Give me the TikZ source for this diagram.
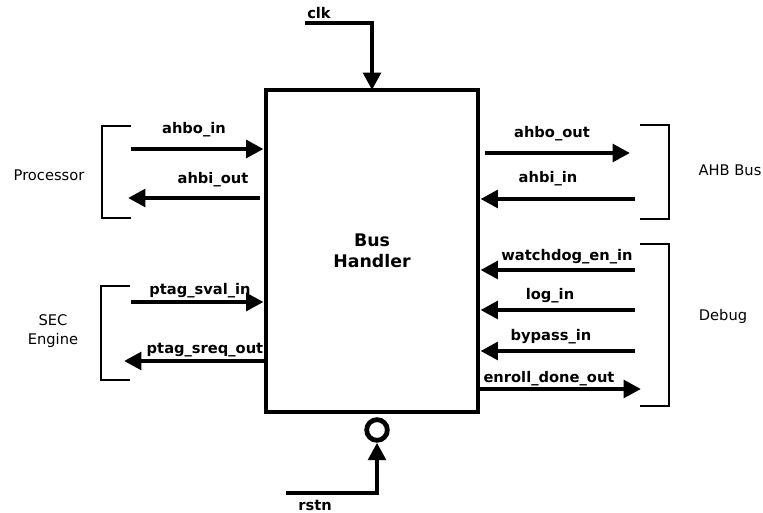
\documentclass[tikz,border=0pt]{standalone}
\usepackage{fontspec}
\setmainfont{DejaVu Sans}
\usetikzlibrary{arrows.meta}
\tikzset{
	sig/.style={line width=3.6pt,-{Triangle[length=13pt,width=13pt]}},
	brk/.style={line width=1.3pt},
	lbl/.style={font=\fontsize{11}{13}\selectfont\bfseries,inner sep=0pt},
	grp/.style={font=\fontsize{11}{14}\selectfont,inner sep=0pt,align=center}
}
\begin{document}
\begin{tikzpicture}[x=0.75pt,y=-0.75pt]
	\useasboundingbox (0,0) rectangle (763,513);
	% block
	\node[draw,line width=3.7pt,minimum width=159pt,minimum height=241.5pt,inner sep=0pt,align=center,
		font=\fontsize{13}{15.75}\selectfont\bfseries] (bh) at (372,251) {Bus\\Handler};
	% clock and reset
	\coordinate (clk) at (305,23);
	\draw[sig] (clk) -- (372,23) -- (372,90);
	\node[lbl] (clkl) at (319,13) {clk};
	\node[draw,circle,line width=3.6pt,minimum size=15.5pt,inner sep=0pt] (rc) at (377,430) {};
	\coordinate (rst) at (286,493);
	\draw[sig] (rst) -- (rst -| rc) -- (rc.south);
	\node[lbl] (rstl) at (315,505) {rstn};
	% processor
	\draw[brk] (131,126) -- (102,126) -- (102,218) -- (131,218);
	\node[grp] (proc) at (49,175) {Processor};
	\coordinate (ahboin) at (131,149);
	\coordinate (ahbiout) at (128,198);
	\draw[sig] (ahboin) -- (ahboin -| bh.west);
	\draw[sig] (ahbiout -| bh.west) ++(-4,0) -- (ahbiout);
	\node[lbl] (l1) at (194,130) {ahbo\_in};
	\node[lbl] (l2) at (213,180) {ahbi\_out};
	% sec engine
	\draw[brk] (130,286) -- (101,286) -- (101,380) -- (130,380);
	\node[grp] (sec) at (53,331) {SEC\\Engine};
	\coordinate (svalin) at (131,302);
	\coordinate (sreqout) at (124,361);
	\draw[sig] (svalin) -- (svalin -| bh.west);
	\draw[sig] (sreqout -| bh.west) -- (sreqout);
	\node[lbl] (l3) at (200,291) {ptag\_sval\_in};
	\node[lbl] (l4) at (205,350) {ptag\_sreq\_out};
	% ahb bus
	\draw[brk] (640,125) -- (669,125) -- (669,219) -- (640,219);
	\node[grp] (ahb) at (730,170) {AHB Bus};
	\coordinate (ahboout) at (630,153);
	\coordinate (ahbiin) at (635,199);
	\draw[sig] (ahboout -| bh.east) ++(5,0) -- (ahboout);
	\draw[sig] (ahbiin) -- (ahbiin -| bh.east);
	\node[lbl] (l5) at (552,134) {ahbo\_out};
	\node[lbl] (l6) at (548,179) {ahbi\_in};
	% debug
	\draw[brk] (640,244) -- (669,244) -- (669,406) -- (640,406);
	\node[grp] (dbg) at (723,316) {Debug};
	\coordinate (wdgin) at (635,270);
	\coordinate (login) at (635,310);
	\coordinate (bypin) at (635,351);
	\coordinate (enrout) at (641,389);
	\draw[sig] (wdgin) -- (wdgin -| bh.east);
	\draw[sig] (login) -- (login -| bh.east);
	\draw[sig] (bypin) -- (bypin -| bh.east);
	\draw[sig] (enrout -| bh.east) -- (enrout);
	\node[lbl] (l7) at (567,257) {watchdog\_en\_in};
	\node[lbl] (l8) at (550,296) {log\_in};
	\node[lbl] (l9) at (551,337) {bypass\_in};
	\node[lbl] (l10) at (549,379) {enroll\_done\_out};
\end{tikzpicture}
\end{document}
